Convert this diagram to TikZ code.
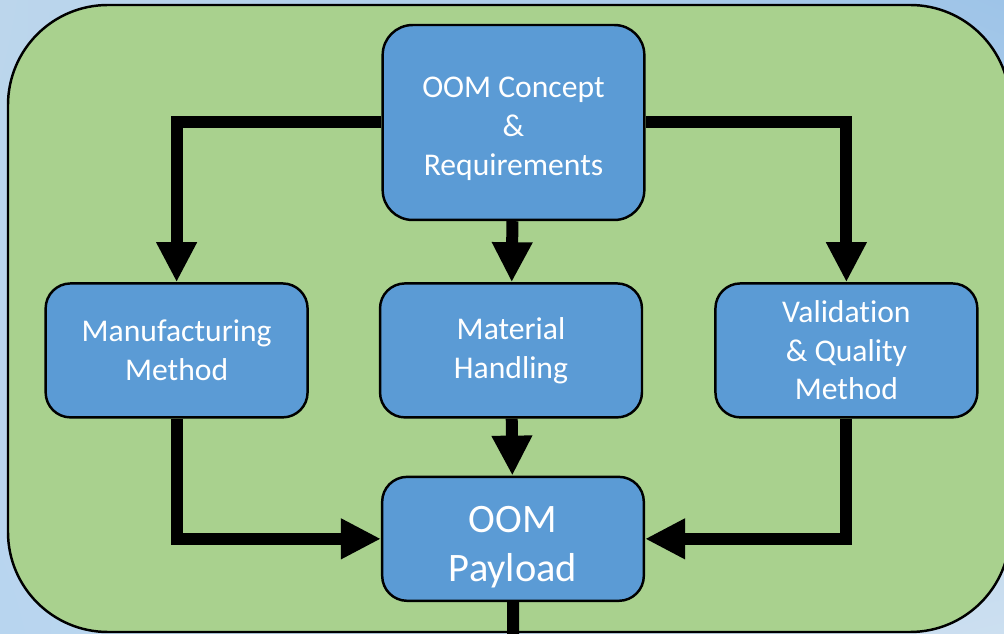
\documentclass[tikz,border=0pt]{standalone}
\usepackage{fontspec}
\setmainfont{Carlito}[Ligatures=NoCommon]
\usetikzlibrary{arrows.meta, positioning, shadings}

\definecolor{boxblue}{HTML}{5B9BD5}
\definecolor{panelgreen}{HTML}{A9D18E}
\definecolor{skytl}{HTML}{BCD6EC}
\definecolor{skytr}{HTML}{9EC4E8}
\definecolor{skybl}{HTML}{B8D5EF}
\definecolor{skybr}{HTML}{CCDFF0}

% text sat a little low in its box, as in the original slide
\newcommand{\dropped}[2]{\raisebox{-#1}[0pt][0pt]{\parbox{5cm}{\centering #2}}}

\begin{document}
\begin{tikzpicture}[
            x=0.02cm, y=-0.02cm,
            box/.style={draw, line width=1.4pt, rounded corners=0.5cm,
                        fill=boxblue, text=white, align=center,
                        minimum width=5.24cm, minimum height=2.68cm,
                        font=\fontsize{18}{22}\selectfont},
            panel/.style={draw, line width=1.4pt, fill=panelgreen,
                          rounded corners=2cm},
            arr/.style={-{Triangle[length=0.8cm, width=0.76cm]}, line width=0.24cm},
            lnk/.style={line width=0.24cm}]

            %% ── Background ────────────────────────────────────────────────
            \useasboundingbox (0,0) rectangle (1004,634);
            \clip (0,0) rectangle (1004,634);
            \shade[upper left=skytl, upper right=skytr,
                   lower left=skybl, lower right=skybr] (0,0) rectangle (1004,634);
            \draw[panel] (8,5) rectangle (1010,632);

            %% ── Nodes ─────────────────────────────────────────────────────
            \node[box, minimum width=5.22cm, minimum height=3.9cm, rounded corners=0.6cm]
                                                 at (513.5,122.5) (concept)
                                                 {\dropped{0.28cm}{OOM Concept\\\&\\Requirements}};
            \node[box, below=1.22cm of concept, xshift=-0.05cm]
                                                 (material) {Material\\Handling};
            \node[box, left=1.40cm of material]  (manuf)    {Manufacturing\\Method};
            \node[box, right=1.42cm of material] (valid)    {Validation\\\& Quality\\Method};
            \node[box, below=1.14cm of material, xshift=0.04cm,
                  minimum width=5.2cm, minimum height=2.48cm,
                  font=\fontsize{23}{28}\selectfont]
                                                 (payload)  {\dropped{0.38cm}{OOM\\Payload}};
            \coordinate (outlet) at (513,640);

            %% ── Connectors ────────────────────────────────────────────────
            \draw[arr] (concept.west) -| (manuf.north);
            \draw[arr] (concept.east) -| (valid.north);
            \draw[arr] (concept) -- (material);

            \draw[arr] (material) -- (payload);
            \draw[arr] (manuf.south) |- (payload.west);
            \draw[arr] (valid.south) |- (payload.east);

            \draw[lnk] (payload.south) -- (outlet);

\end{tikzpicture}
\end{document}
